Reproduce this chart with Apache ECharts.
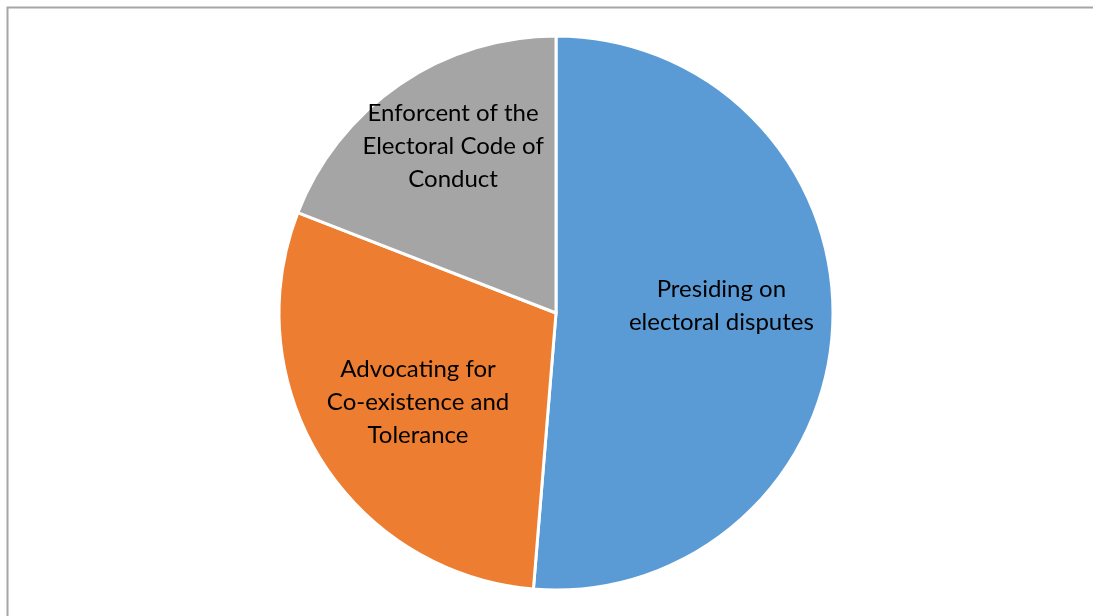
<!DOCTYPE html>
<html>
<head>
<meta charset="utf-8">
<script src="https://cdn.jsdelivr.net/npm/echarts@6/dist/echarts.min.js"></script>
<style>html,body{margin:0;padding:0;background:#fff;}#c{width:1093px;height:616px;}</style>
</head>
<body>
<div id="c"></div>
<script>
const categories = ["Presiding on\nelectoral disputes", "Advocating for\nCo-existence and\nTolerance", "Enforcent of the\nElectoral Code of\nConduct"];
const values = [51.3, 29.6, 19.1];
const colors = ["#5B9BD5", "#ED7D31", "#A5A5A5"];
const labelOffsets = [[24, -13], [-18, 14], [-23, -50]];

const chart = echarts.init(document.getElementById('c'), null, {renderer: 'canvas'});
chart.setOption({
  animation: false,
  backgroundColor: '#fff',
  graphic: [{
    type: 'rect', left: 5, top: 5,
    shape: {width: 1200, height: 700},
    style: {fill: 'none', stroke: '#a6a6a6', lineWidth: 2}
  }],
  series: [{
    type: 'pie',
    center: [556, 313],
    radius: [0, 277],
    startAngle: 90,
    clockwise: true,
    data: categories.map((n, i) => ({
      name: n, value: values[i],
      itemStyle: {color: colors[i]},
      label: {offset: labelOffsets[i]}
    })),
    itemStyle: {borderColor: '#fff', borderWidth: 3},
    label: {
      show: true, position: 'inside', formatter: '{b}',
      color: '#000', fontFamily: 'Lato', fontSize: 24, lineHeight: 33, align: 'center'
    },
    labelLine: {show: false},
    emphasis: {disabled: true}
  }]
});
</script>
</body>
</html>
